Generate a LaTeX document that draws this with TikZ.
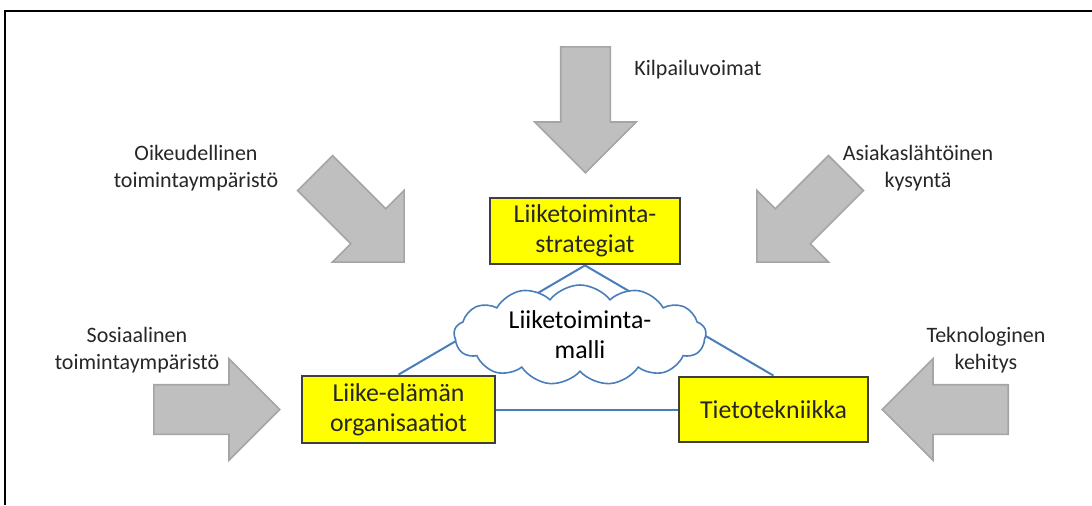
\documentclass[tikz,border=0pt]{standalone}
\usepackage{fontspec}
\setmainfont{Carlito}
\usetikzlibrary{shapes.arrows, shapes.symbols, backgrounds}
\definecolor{cyellow}{HTML}{FFFF00}
\definecolor{cframe}{HTML}{3F3F3F}
\definecolor{cgreyarrow}{HTML}{BFBFBF}
\definecolor{cgreyedge}{HTML}{A5A5A5}
\definecolor{clink}{HTML}{4A7EBB}
\definecolor{ctext}{HTML}{262626}
\tikzset{
  every picture/.style={line width=0.8pt},
  box/.style={draw=cframe, fill=cyellow, line width=1.4pt, align=center, text=ctext, inner sep=0pt, font=\fontsize{12.9}{15}\selectfont},
  bigarrow/.style={single arrow, draw=cgreyedge, fill=cgreyarrow, line width=0.8pt, inner sep=12pt, minimum height=63pt, single arrow head extend=13pt, single arrow tip angle=90, anchor=tail},
  link/.style={draw=clink, line width=1pt},
  note/.style={align=center, text=ctext, font=\fontsize{11}{13.5}\selectfont},
}

\begin{document}
\begin{tikzpicture}[x=0.5pt, y=-0.5pt]
  \useasboundingbox (0,0) rectangle (1092,505);
  \draw[line width=1.1pt] (5,505) -- (5,11) -- (1092,11);
  % the five forces, pointing in at the triangle
  \foreach \x/\y/\a [count=\i] in {585.5/46/-90, 314.5/172.5/-45, 846.5/172.5/-135, 153/409.5/0, 1009/409.5/180}
    \node[bigarrow, rotate=\a] (force\i) at (\x,\y) {};
  \node[note, anchor=west] (kilp) at (627,70) {Kilpailuvoimat};
  \node[note] (oik) at (196,168) {Oikeudellinen\\toimintaympäristö};
  \node[note] (asiak) at (918,168) {Asiakaslähtöinen\\kysyntä};
  \node[note] (sos) at (137,350) {Sosiaalinen\\toimintaympäristö};
  \node[note] (tekn) at (986,350) {Teknologinen\\kehitys};
  \node[box, minimum width=95pt, minimum height=33pt] (strat) at (585,231) {Liiketoiminta-\\strategiat};
  \node[box, minimum width=96.5pt, minimum height=33.5pt] (org) at (398.5,409.5) {Liike-elämän\\organisaatiot};
  \node[box, minimum width=94.5pt, minimum height=32.5pt] (tieto) at (773.5,409.5) {Tietotekniikka};
  \node[cloud, cloud puffs=13, cloud puff arc=105, aspect=2.6, draw=clink, fill=white, line width=0.8pt, inner sep=0pt, minimum width=126pt, minimum height=50pt, align=center, font=\fontsize{12.9}{15}\selectfont] (malli) at (580,335) {Liiketoiminta-\\malli};
  \begin{scope}[on background layer]
    \draw[link] (strat.south) -- (org.north);
    \draw[link] (strat.south) -- (tieto.north);
    \draw[link] (org.east) -- (tieto.west);
  \end{scope}
\end{tikzpicture}
\end{document}
